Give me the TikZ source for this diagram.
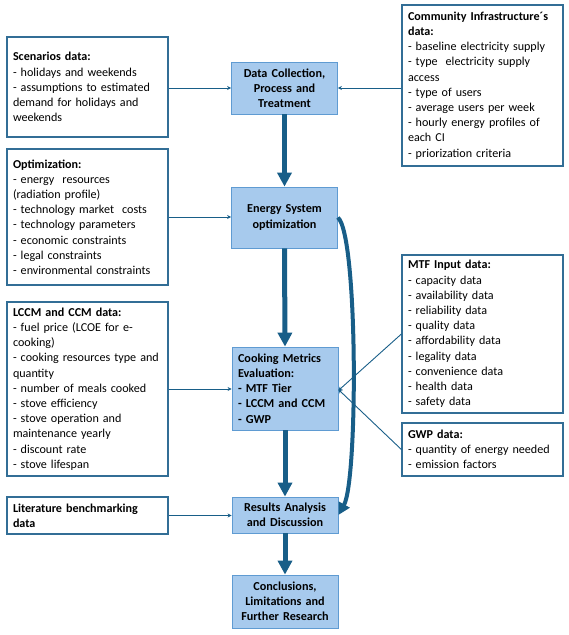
\documentclass[tikz,border=0pt]{standalone}
\usepackage{fontspec}
\setmainfont{Carlito}
\usetikzlibrary{arrows.meta}
\definecolor{arrowc}{RGB}{24,94,136}
\definecolor{boxline}{RGB}{50,110,150}
\definecolor{bluefill}{RGB}{167,202,237}
\definecolor{blueline}{RGB}{95,155,210}
\begin{document}
\begin{tikzpicture}[x=1pt,y=-1pt,
  databox/.style={draw=boxline, line width=1.2pt, fill=white, text width=#1, align=left,
    inner xsep=6pt, inner ysep=0pt, font=\fontsize{12.1}{15.2}\selectfont},
  stepbox/.style={draw=blueline, line width=0.8pt, fill=bluefill, text width=94pt, align=center,
    inner xsep=6pt, inner ysep=0pt, font=\fontsize{12.2}{15.2}\selectfont\bfseries},
  thinarrow/.style={draw=arrowc, line width=0.9pt, -{Stealth[length=4pt,width=4pt]}},
  thickarrow/.style={draw=arrowc, line width=5pt, -{Triangle[length=14pt,width=14pt]}},
  curvearrow/.style={draw=arrowc, line width=4pt, -{Triangle[length=12pt,width=12pt]}}
]
\useasboundingbox (0,0) rectangle (569,635);

% central process boxes
\node[stepbox, minimum height=52pt] (data) at (284.5,88) {Data Collection,\\Process and\\Treatment};
\node[stepbox, minimum height=61pt] (energy) at (284.5,217.5) {Energy System\\optimization};
\node[stepbox, minimum height=83pt, align=left] (cook) at (285,388.5) {Cooking Metrics\\Evaluation:\\- MTF Tier\\- LCCM and CCM\\- GWP};
\node[stepbox, minimum height=36pt] (res) at (285,515) {Results Analysis\\and Discussion};
\node[stepbox, minimum height=53pt] (conc) at (285,601.5) {Conclusions,\\Limitations and\\Further Research};

% left data boxes
\node[databox=149pt, minimum height=100pt] (scen) at (87.5,87) {\textbf{Scenarios data:}\\- holidays and weekends\\- assumptions to estimated\\demand for holidays and\\weekends};
\node[databox=149pt, minimum height=136pt] (opt) at (87.5,217) {\textbf{Optimization:}\\- energy\ \ resources\\(radiation profile)\\- technology market\ \ costs\\- technology parameters\\- economic constraints\\- legal constraints\\- environmental\ constraints};
\node[databox=149pt, minimum height=174pt] (lccm) at (87.5,389) {\textbf{LCCM and CCM data:}\\- fuel price (LCOE for e-\\cooking)\\- cooking resources\ type and\\quantity\\- number of meals cooked\\- stove efficiency\\- stove operation and\\maintenance yearly\\- discount rate\\- stove lifespan};
\node[databox=149pt, minimum height=37pt] (lit) at (87.5,515.5) {\textbf{Literature benchmarking}\\\textbf{data}};

% right data boxes
\node[databox=149pt, minimum height=161pt] (comm) at (482.5,85.5) {\textbf{Community\ Infrastructure´s}\\\textbf{data:}\\- baseline electricity supply\\- type\ \ electricity supply\\access\\- type of users\\- average\ users per week\\- hourly energy profiles of\\each CI\\- priorization criteria};
\node[databox=149pt, minimum height=158pt] (mtf) at (482.5,334) {\textbf{MTF Input data:}\\- capacity data\\- availability data\\- reliability data\\- quality data\\- affordability data\\- legality data\\- convenience\ data\\- health data\\- safety data};
\node[databox=149pt, minimum height=53pt] (gwp) at (482.5,449.5) {\textbf{GWP data:}\\- quantity of energy\ needed\\- emission factors};

% thin connectors
\draw[thinarrow] (scen.east |- data.west) -- (data.west);
\draw[thinarrow] (comm.west |- data.east) -- (data.east);
\draw[thinarrow] (opt.east) -- (opt.east -| energy.west);
\draw[thinarrow] (lccm.east) -- (lccm.east -| cook.west);
\draw[thinarrow] (lit.east) -- (lit.east -| res.west);
\draw[thinarrow] (mtf.west) -- ([yshift=-2pt]cook.east);
\draw[thinarrow] (gwp.west) -- ([yshift=-1pt]cook.east);

% thick arrows
\draw[thickarrow] (data.south) -- (energy.north);
\draw[thickarrow] (energy.south) -- (cook.north);
\draw[thickarrow] (cook.south) -- (res.north);
\draw[thickarrow] (res.south) -- (conc.north);

% curved arrow
\draw[curvearrow] (energy.east) .. controls (358,235) and (358,480) .. (res.east);
\end{tikzpicture}
\end{document}
